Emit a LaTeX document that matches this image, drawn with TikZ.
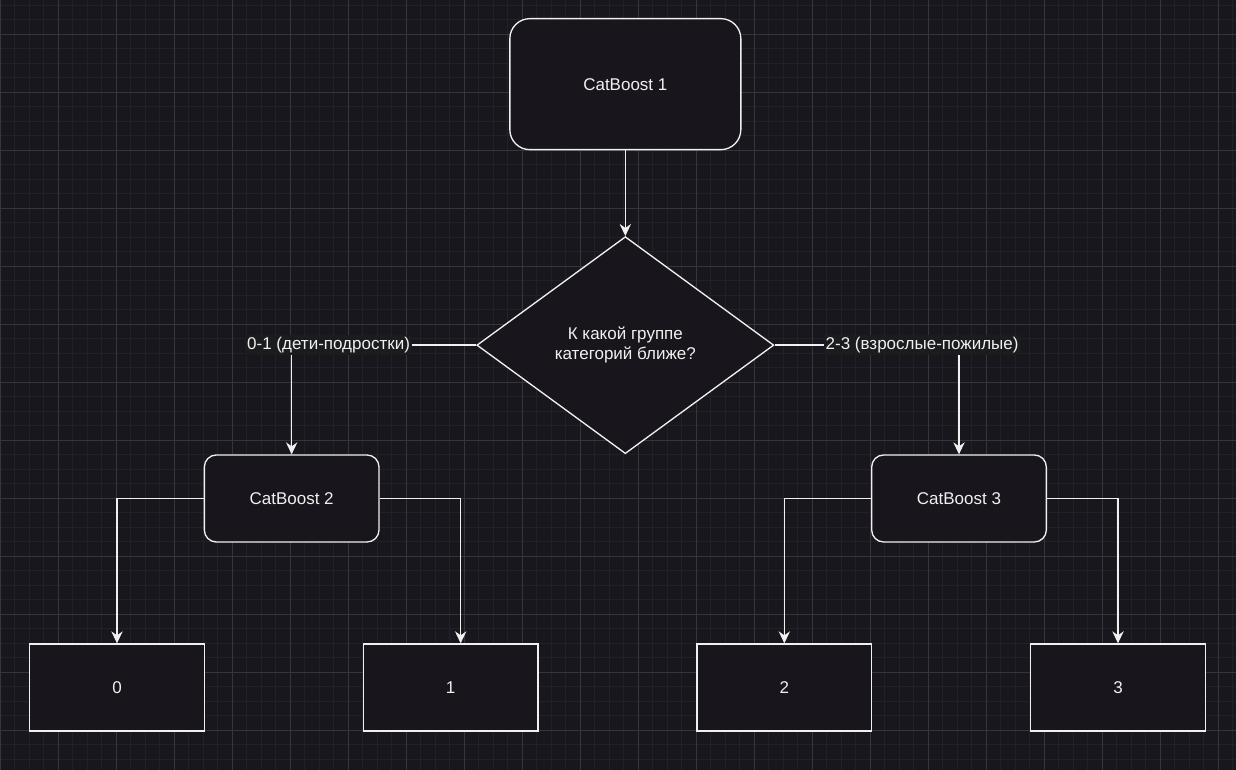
\documentclass[tikz,border=0pt]{standalone}
\usepackage{fontspec}
\setmainfont{Liberation Sans}
\usetikzlibrary{calc,positioning,shapes.geometric,arrows.meta}
\definecolor{canvas}{RGB}{25,23,30}
\definecolor{minorline}{RGB}{35,33,39}
\definecolor{majorline}{RGB}{55,53,59}
\definecolor{boxfill}{RGB}{24,21,29}
\definecolor{ink}{RGB}{240,240,240}
\definecolor{labelfill}{RGB}{27,28,30}

\begin{document}
\begin{tikzpicture}[
        font=\fontsize{12.75pt}{15pt}\selectfont,
        model/.style={draw=ink, line width=1pt, fill=boxfill, text=ink, rounded corners=9pt, minimum width=131pt, minimum height=65.25pt},
        question/.style={diamond, draw=ink, line width=1pt, fill=boxfill, text=ink, align=center, minimum width=222.75pt, minimum height=162.75pt, inner sep=0pt},
        category/.style={draw=ink, line width=1pt, fill=boxfill, text=ink, minimum width=131pt, minimum height=65.25pt},
        branch/.style={fill=labelfill, text=ink, inner sep=1.5pt},
        arrow/.style={-{Stealth[length=9pt, width=8.5pt, inset=3pt]}, line width=1pt, draw=ink},
    ]

    % Canvas
    \useasboundingbox[fill=canvas] (0,0) rectangle (927pt,577.5pt);
    \begin{scope}
        \clip (0,0) rectangle (927pt,577.5pt);
        \begin{scope}[yshift=8.05pt]
            \draw[minorline, line width=0.5pt, step=10.875pt] (0,-20pt) grid (940pt,580pt);
        \end{scope}
        \begin{scope}[yshift=29.8pt]
            \draw[majorline, line width=0.6pt, step=43.5pt] (0,-40pt) grid (940pt,580pt);
        \end{scope}
    \end{scope}

    % Classes
    \node[category] (class0) at (87.75pt,61.875pt) {0};
    \node[category, right=118.25pt of class0] (class1) {1};
    \node[category, right=118.25pt of class1] (class2) {2};
    \node[category, right=118.25pt of class2] (class3) {3};

    % Models
    \node[model, above right=75.5pt and -1pt of class0] (model2) {CatBoost 2};
    \node[model, above right=75.5pt and -1pt of class2] (model3) {CatBoost 3};
    \node[question, anchor=south] (group) at ($(model2.north)!0.5!(model3.north)$) {К какой группе\\категорий ближе?};
    \node[model, rounded corners=15pt, minimum width=173.25pt, minimum height=98.25pt, above=64.25pt of group] (model1) {CatBoost 1};

    % Lines
    \draw[arrow] (model1) -- (group);
    \draw[arrow] (group) -| node[branch, pos=0.4] {0-1 (дети-подростки)} (model2);
    \draw[arrow] (group) -| node[branch, pos=0.4] {2-3 (взрослые-пожилые)} (model3);
    \draw[arrow] (model2) -| (class0);
    \draw[arrow] (model2) -| ([xshift=7.5pt]class1.north);
    \draw[arrow] (model3) -| (class2);
    \draw[arrow] (model3) -| (class3);

\end{tikzpicture}
\end{document}
